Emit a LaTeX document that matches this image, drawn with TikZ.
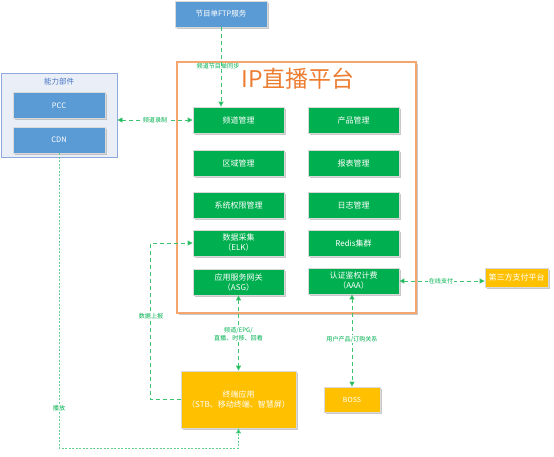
\documentclass[tikz,border=0pt]{standalone}
\usepackage{fontspec}
\setmainfont{Noto Sans CJK SC}
\usetikzlibrary{arrows.meta,shadows}
\definecolor{gbox}{HTML}{00B050}
\definecolor{bbox}{HTML}{5B9BD5}
\definecolor{ybox}{HTML}{FFC000}
\definecolor{obord}{HTML}{F4A66E}
\definecolor{otitle}{HTML}{ED7D31}
\definecolor{capfill}{HTML}{EAEFF7}
\definecolor{capbord}{HTML}{8EA9DB}
\definecolor{captext}{HTML}{4472C4}
\definecolor{lgreen}{HTML}{3CC46E}
\tikzset{
  shad/.style={drop shadow={shadow xshift=1.6pt,shadow yshift=-1.6pt,fill=black!35,opacity=0.6}},
  gbx/.style={shad,draw=black!15,line width=0.8pt,fill=gbox,text=white,minimum width=91pt,minimum height=26pt,inner sep=1pt,align=center,font=\fontsize{8}{10}\selectfont},
  bbx/.style={shad,draw=black!15,line width=0.8pt,fill=bbox,text=white,minimum width=92pt,minimum height=26pt,inner sep=1pt,align=center,font=\fontsize{7.5}{9}\selectfont},
  ybx/.style={shad,draw=black!15,line width=0.8pt,fill=ybox,text=white,inner sep=1pt,align=center,font=\fontsize{8}{10}\selectfont},
  conn/.style={draw=lgreen,line width=0.9pt,dash pattern=on 4pt off 3pt},
  dconn/.style={draw=lgreen!80,line width=0.9pt,dash pattern=on 2pt off 1.5pt},
  tips/.style={{Triangle[length=5pt,width=5pt,fill=gbox]}-{Triangle[length=5pt,width=5pt,fill=gbox]}},
  tip/.style={-{Triangle[length=5pt,width=5pt,fill=gbox]}},
  lbl/.style={text=gbox,font=\fontsize{6.1}{8}\selectfont,inner sep=0.5pt,align=center},
  lblw/.style={lbl,fill=white}
}
\begin{document}
\begin{tikzpicture}[x=1pt,y=-1pt]
\useasboundingbox[fill=white] (0,0) rectangle (554,456);
% IP platform frame
\node[shad,draw=obord,line width=1.4pt,fill=white,minimum width=239pt,minimum height=251pt,inner sep=0pt] (ip) at (296.5,187.5) {};
\node[text=otitle,font=\fontsize{23}{26}\selectfont,inner sep=0pt] (iptitle) at (298,79) {IP直播平台};
% ability box
\node[draw=capbord,line width=0.9pt,fill=capfill,minimum width=116pt,minimum height=84pt,inner sep=0pt] (cap) at (59,115) {};
\node[text=captext,font=\fontsize{7.5}{9}\selectfont,inner sep=0pt] (captitle) at (59,82) {能力部件};
\node[bbx] (pcc) at (59,105.5) {PCC};
\node[bbx] (cdn) at (59,140) {CDN};
% FTP
\node[bbx,minimum width=92pt] (ftp) at (221,14) {节目单FTP服务};
% green boxes
\node[gbx] (pd) at (238.5,120) {频道管理};
\node[gbx] (cp) at (353.5,120) {产品管理};
\node[gbx] (qy) at (238.5,163) {区域管理};
\node[gbx] (bb) at (353.5,163) {报表管理};
\node[gbx] (xt) at (238.5,205) {系统权限管理};
\node[gbx] (rz) at (353.5,205) {日志管理};
\node[gbx] (elk) at (238.5,243) {数据采集\\（ELK）};
\node[gbx] (redis) at (353.5,243) {Redis集群};
\node[gbx] (asg) at (238.5,282) {应用服务网关\\（ASG）};
\node[gbx] (aaa) at (353.5,281) {认证鉴权计费\\（AAA）};
% yellow boxes
\node[ybx,minimum width=63pt,minimum height=19pt] (pay) at (516.5,277.5) {第三方支付平台};
\node[ybx,minimum width=115pt,minimum height=57pt] (term) at (238.5,399.5) {终端应用\\（STB、移动终端、智慧屏）};
\node[ybx,minimum width=56pt,minimum height=25pt,font=\fontsize{7}{9}\selectfont] (boss) at (352,399.5) {BOSS};
% connectors
\draw[conn,tip] (ftp.south) -- (ftp.south |- pd.north);
\node[lbl] (l1) at (218,66) {频道节目单同步};
\draw[conn,tips] (cap.east |- pd.west) -- (pd.west);
\node[lblw] (l2) at (155,120) {频道录制};
\draw[conn,tip] (term.west) -- ++(-30,0) |- (elk.west);
\node[lblw] (l3) at (151,316) {数据上报};
\draw[conn,tips] (asg.south) -- (term.north);
\node[lblw] (l4) at (238.5,334) {频道/EPG/\\直播、时移、回看};
\draw[conn,tips] (aaa.south -| boss.north) -- (boss.north);
\node[lblw] (l5) at (352,339) {用户产品/订购关系};
\draw[conn,tips] (aaa.east) -- (pay.west |- aaa.east);
\node[lblw] (l6) at (441,281) {在线支付};
\coordinate (cb) at (59,448);
\draw[dconn,tip] (cdn.south) -- (cb) -| (term.south);
\node[lblw] (l7) at (59,408) {播放};
\end{tikzpicture}
\end{document}
